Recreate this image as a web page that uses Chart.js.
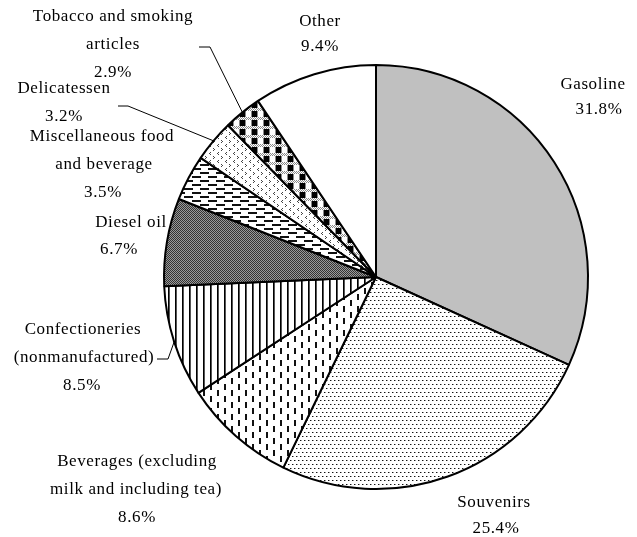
<!DOCTYPE html>
<html>
<head>
<meta charset="utf-8">
<script src="https://cdn.jsdelivr.net/npm/chart.js@4"></script>
<style>
  html, body { margin: 0; padding: 0; background: #fff; }
  #wrap { width: 637px; height: 537px; position: relative; }
</style>
</head>
<body>
<div id="wrap"><canvas id="pie"></canvas></div>
<script>
// data (clockwise from 12 o'clock)
var categories = ['Gasoline', 'Souvenirs', 'Beverages (excluding milk and including tea)',
  'Confectioneries (nonmanufactured)', 'Diesel oil', 'Miscellaneous food and beverage',
  'Delicatessen', 'Tobacco and smoking articles', 'Other'];
var shares = [31.8, 25.4, 8.6, 8.5, 6.7, 3.5, 3.2, 2.9, 9.4];
var labelLines = [
  ['Gasoline'],
  ['Souvenirs'],
  ['Beverages (excluding', 'milk and including tea)'],
  ['Confectioneries', '(nonmanufactured)'],
  ['Diesel oil'],
  ['Miscellaneous food', 'and beverage'],
  ['Delicatessen'],
  ['Tobacco and smoking', 'articles'],
  ['Other']
];

// where each label block sits (x per line, first line y, line height) and which ones get a leader line
var labelPos = [
  { xs: [593, 599], y: 85, lh: 25 },
  { xs: [494, 496], y: 503, lh: 26 },
  { xs: [137, 136, 137], y: 462, lh: 28 },
  { xs: [83, 84, 82], y: 330, lh: 28 },
  { xs: [131, 119], y: 223, lh: 27 },
  { xs: [102, 104, 103], y: 137, lh: 28 },
  { xs: [64, 64], y: 89, lh: 28 },
  { xs: [113, 113, 113], y: 17, lh: 28 },
  { xs: [320, 320], y: 22, lh: 25 }
];
var leaders = {
  3: [[157, 359], [168, 359]],
  6: [[118, 106], [128, 106]],
  7: [[199, 47], [210, 47]]
};

var ctx = document.getElementById('pie').getContext('2d');

function makePattern(w, h, draw) {
  var c = document.createElement('canvas');
  c.width = w; c.height = h;
  var g = c.getContext('2d');
  g.fillStyle = '#fff';
  g.fillRect(0, 0, w, h);
  draw(g);
  return ctx.createPattern(c, 'repeat');
}

var dots = makePattern(8, 8, function(g) {
  g.fillStyle = '#999';
  g.fillRect(1, 0, 1, 1); g.fillRect(5, 0, 1, 1);
  g.fillRect(3, 4, 1, 1); g.fillRect(7, 4, 1, 1);
  g.fillStyle = '#111';
  g.fillRect(0, 0, 1, 1); g.fillRect(4, 0, 1, 1);
  g.fillRect(2, 4, 1, 1); g.fillRect(6, 4, 1, 1);
});
var vdash = makePattern(14, 12, function(g) {
  g.fillStyle = '#111';
  g.fillRect(0, 0, 2, 6);
  g.fillRect(7, 6, 2, 6);
});
var vlines = makePattern(7, 4, function(g) {
  g.fillStyle = '#000'; g.fillRect(0, 0, 1, 4);
  g.fillStyle = '#555'; g.fillRect(1, 0, 1, 4);
});
var fineHatch = makePattern(2, 2, function(g) {
  g.fillStyle = '#9a9a9a'; g.fillRect(0, 0, 2, 2);
  g.fillStyle = '#333'; g.fillRect(0, 0, 1, 1); g.fillRect(1, 1, 1, 1);
});
var hdash = makePattern(16, 8, function(g) {
  g.fillStyle = '#111';
  g.fillRect(0, 0, 9, 2);
  g.fillRect(8, 4, 8, 2); g.fillRect(0, 4, 1, 2);
});
var chevrons = makePattern(8, 8, function(g) {
  g.fillStyle = '#444';
  g.fillRect(2, 0, 1, 1); g.fillRect(1, 1, 1, 1); g.fillRect(2, 2, 1, 1);
  g.fillRect(5, 4, 1, 1); g.fillRect(6, 5, 1, 1); g.fillRect(5, 6, 1, 1);
});
var checks = makePattern(12, 9, function(g) {
  g.fillStyle = '#888';
  for (var x = 0; x < 12; x++) {
    for (var y = 0; y < 3; y++) { if ((x + y) % 2 === 0) g.fillRect(x, y, 1, 1); }
  }
  g.fillStyle = '#000'; g.fillRect(0, 3, 5, 6);
  g.fillStyle = '#888'; g.fillRect(5, 3, 1, 6); g.fillRect(11, 3, 1, 6);
});

var fills = ['#c0c0c0', dots, vdash, vlines, fineHatch, hdash, chevrons, checks, '#ffffff'];

var labelPlugin = {
  id: 'sliceLabels',
  afterDraw: function(chart) {
    var c = chart.ctx;
    var arcs = chart.getDatasetMeta(0).data;
    c.save();
    c.font = '17px "Liberation Serif", "Times New Roman", serif';
    if ('letterSpacing' in c) c.letterSpacing = '0.6px';
    c.fillStyle = '#000';
    c.textAlign = 'center';
    c.textBaseline = 'middle';
    shares.forEach(function(v, i) {
      var lines = labelLines[i].concat([v.toFixed(1) + '%']);
      var p = labelPos[i];
      lines.forEach(function(t, k) {
        c.fillText(t, p.xs[k], p.y + k * p.lh);
      });
    });
    // leader lines from the label to the middle of the slice's rim
    c.strokeStyle = '#000';
    c.lineWidth = 1;
    Object.keys(leaders).forEach(function(key) {
      var a = arcs[key];
      var mid = (a.startAngle + a.endAngle) / 2;
      var ex = a.x + Math.cos(mid) * a.outerRadius;
      var ey = a.y + Math.sin(mid) * a.outerRadius;
      var pts = leaders[key];
      c.beginPath();
      c.moveTo(pts[0][0], pts[0][1]);
      c.lineTo(pts[1][0], pts[1][1]);
      c.lineTo(ex, ey);
      c.stroke();
    });
    c.restore();
  }
};

new Chart(ctx, {
  type: 'pie',
  data: {
    labels: categories,
    datasets: [{
      data: shares,
      backgroundColor: fills,
      borderColor: '#000',
      borderWidth: 2
    }]
  },
  options: {
    responsive: true,
    maintainAspectRatio: false,
    animation: false,
    layout: { padding: { left: 163, right: 48, top: 64, bottom: 47 } },
    plugins: {
      legend: { display: false },
      tooltip: { enabled: false }
    }
  },
  plugins: [labelPlugin]
});
</script>
</body>
</html>
